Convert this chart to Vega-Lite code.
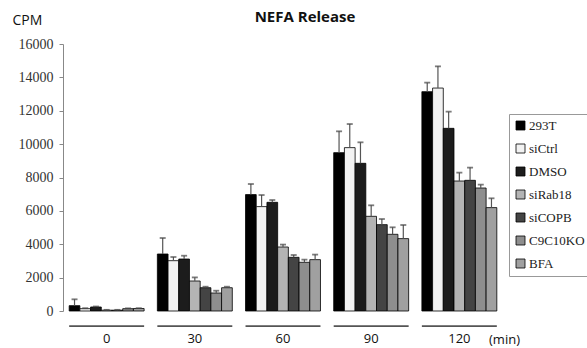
{
  "$schema": "https://vega.github.io/schema/vega-lite/v6.json",
  "autosize": "none",
  "width": 440,
  "height": 267,
  "padding": {"left": 63, "top": 44, "right": 84, "bottom": 37},
  "background": "white",
  "title": {"text": "NEFA Release", "font": "Open Sans", "fontSize": 15, "fontWeight": "bold", "anchor": "middle", "frame": "group", "dx": 22, "offset": -12, "color": "#111"},
  "config": {"view": {"stroke": null}},
  "data": {"values": [
    {"t": "0", "s": "293T", "v": 320, "e": 700},
    {"t": "0", "s": "siCtrl", "v": 140, "e": 170},
    {"t": "0", "s": "DMSO", "v": 240, "e": 270},
    {"t": "0", "s": "siRab18", "v": 50, "e": 70},
    {"t": "0", "s": "siCOPB", "v": 50, "e": 70},
    {"t": "0", "s": "C9C10KO", "v": 140, "e": 160},
    {"t": "0", "s": "BFA", "v": 150, "e": 170},
    {"t": "30", "s": "293T", "v": 3415, "e": 4374},
    {"t": "30", "s": "siCtrl", "v": 3015, "e": 3236},
    {"t": "30", "s": "DMSO", "v": 3115, "e": 3313},
    {"t": "30", "s": "siRab18", "v": 1797, "e": 2013},
    {"t": "30", "s": "siCOPB", "v": 1396, "e": 1456},
    {"t": "30", "s": "C9C10KO", "v": 1078, "e": 1216},
    {"t": "30", "s": "BFA", "v": 1396, "e": 1456},
    {"t": "60", "s": "293T", "v": 6975, "e": 7610},
    {"t": "60", "s": "siCtrl", "v": 6255, "e": 6950},
    {"t": "60", "s": "DMSO", "v": 6513, "e": 6650},
    {"t": "60", "s": "siRab18", "v": 3835, "e": 3980},
    {"t": "60", "s": "siCOPB", "v": 3217, "e": 3355},
    {"t": "60", "s": "C9C10KO", "v": 2918, "e": 3078},
    {"t": "60", "s": "BFA", "v": 3078, "e": 3380},
    {"t": "90", "s": "293T", "v": 9490, "e": 10767},
    {"t": "90", "s": "siCtrl", "v": 9790, "e": 11204},
    {"t": "90", "s": "DMSO", "v": 8850, "e": 10108},
    {"t": "90", "s": "siRab18", "v": 5674, "e": 6333},
    {"t": "90", "s": "siCOPB", "v": 5176, "e": 5512},
    {"t": "90", "s": "C9C10KO", "v": 4596, "e": 5015},
    {"t": "90", "s": "BFA", "v": 4338, "e": 5153},
    {"t": "120", "s": "293T", "v": 13144, "e": 13685},
    {"t": "120", "s": "siCtrl", "v": 13360, "e": 14660},
    {"t": "120", "s": "DMSO", "v": 10946, "e": 11947},
    {"t": "120", "s": "siRab18", "v": 7789, "e": 8292},
    {"t": "120", "s": "siCOPB", "v": 7831, "e": 8592},
    {"t": "120", "s": "C9C10KO", "v": 7370, "e": 7573},
    {"t": "120", "s": "BFA", "v": 6195, "e": 6753}
  ]},
  "encoding": {
    "x": {
      "field": "t", "type": "ordinal", "sort": ["0", "30", "60", "90", "120"],
      "scale": {"paddingInner": 0.15, "paddingOuter": 0.07},
      "axis": {
        "domain": false, "ticks": false, "labelAngle": 0, "labelPadding": 21,
        "labelFont": "Open Sans", "labelFontSize": 13, "labelColor": "#111",
        "title": "(min)", "titleFont": "Open Sans", "titleFontSize": 13, "titleFontWeight": "normal", "titleColor": "#111",
        "titleX": 441, "titleY": 28, "titleAlign": "center", "titleBaseline": "middle"
      }
    }
  },
  "layer": [
    {
      "mark": {"type": "bar", "stroke": "black", "strokeWidth": 0.8},
      "encoding": {
        "xOffset": {"field": "s", "sort": ["293T", "siCtrl", "DMSO", "siRab18", "siCOPB", "C9C10KO", "BFA"], "scale": {"paddingInner": 0, "paddingOuter": 0}},
        "y": {
          "field": "v", "type": "quantitative",
          "scale": {"domain": [0, 16000], "nice": false},
          "axis": {
            "title": "CPM", "values": [0, 2000, 4000, 6000, 8000, 10000, 12000, 14000, 16000],
            "format": "d", "labelOverlap": false,
            "grid": false, "domainColor": "#888", "tickColor": "#888", "tickSize": 4,
            "labelFont": "Liberation Serif", "labelFontSize": 14, "labelColor": "#333", "labelPadding": 6,
            "titleAngle": 0, "titleX": -51, "titleY": -24, "titleAlign": "left", "titleBaseline": "middle",
            "titleFont": "Open Sans", "titleFontSize": 14, "titleFontWeight": "normal", "titleColor": "#111"
          }
        },
        "fill": {
          "field": "s", "type": "nominal",
          "sort": ["293T", "siCtrl", "DMSO", "siRab18", "siCOPB", "C9C10KO", "BFA"],
          "scale": {"domain": ["293T", "siCtrl", "DMSO", "siRab18", "siCOPB", "C9C10KO", "BFA"],
                    "range": ["#000000", "#f2f2f2", "#1c1c1c", "#b4b4b4", "#444444", "#8e8e8e", "#a0a0a0"]},
          "legend": {
            "orient": "none", "legendX": 446, "legendY": 70, "title": null,
            "strokeColor": "#999", "fillColor": "white", "padding": 5,
            "symbolType": "square", "symbolSize": 81, "symbolStrokeColor": "black", "symbolStrokeWidth": 0.8, "symbolOpacity": 1,
            "labelFont": "Liberation Serif", "labelFontSize": 13, "labelColor": "#222", "labelOffset": 2,
            "rowPadding": 9
          }
        }
      }
    },
    {
      "mark": {"type": "rule", "color": "#555", "strokeWidth": 1.2},
      "encoding": {
        "xOffset": {"field": "s", "sort": ["293T", "siCtrl", "DMSO", "siRab18", "siCOPB", "C9C10KO", "BFA"]},
        "y": {"field": "v", "type": "quantitative",
          "axis": {
            "title": "CPM", "values": [0, 2000, 4000, 6000, 8000, 10000, 12000, 14000, 16000],
            "format": "d", "labelOverlap": false,
            "grid": false, "domainColor": "#888", "tickColor": "#888", "tickSize": 4,
            "labelFont": "Liberation Serif", "labelFontSize": 14, "labelColor": "#333", "labelPadding": 6,
            "titleAngle": 0, "titleX": -51, "titleY": -24, "titleAlign": "left", "titleBaseline": "middle",
            "titleFont": "Open Sans", "titleFontSize": 14, "titleFontWeight": "normal", "titleColor": "#111"
          }},
        "y2": {"field": "e"}
      }
    },
    {
      "mark": {"type": "tick", "color": "#444", "thickness": 1.8, "size": 6},
      "encoding": {
        "xOffset": {"field": "s", "sort": ["293T", "siCtrl", "DMSO", "siRab18", "siCOPB", "C9C10KO", "BFA"]},
        "y": {"field": "e", "type": "quantitative",
          "axis": {
            "title": "CPM", "values": [0, 2000, 4000, 6000, 8000, 10000, 12000, 14000, 16000],
            "format": "d", "labelOverlap": false,
            "grid": false, "domainColor": "#888", "tickColor": "#888", "tickSize": 4,
            "labelFont": "Liberation Serif", "labelFontSize": 14, "labelColor": "#333", "labelPadding": 6,
            "titleAngle": 0, "titleX": -51, "titleY": -24, "titleAlign": "left", "titleBaseline": "middle",
            "titleFont": "Open Sans", "titleFontSize": 14, "titleFontWeight": "normal", "titleColor": "#111"
          }}
      }
    },
    {
      "data": {"values": [{"t": "0"}, {"t": "30"}, {"t": "60"}, {"t": "90"}, {"t": "120"}]},
      "mark": {"type": "rect", "color": "#555"},
      "encoding": {
        "y": {"datum": -860, "type": "quantitative",
          "axis": {
            "title": "CPM", "values": [0, 2000, 4000, 6000, 8000, 10000, 12000, 14000, 16000],
            "format": "d", "labelOverlap": false,
            "grid": false, "domainColor": "#888", "tickColor": "#888", "tickSize": 4,
            "labelFont": "Liberation Serif", "labelFontSize": 14, "labelColor": "#333", "labelPadding": 6,
            "titleAngle": 0, "titleX": -51, "titleY": -24, "titleAlign": "left", "titleBaseline": "middle",
            "titleFont": "Open Sans", "titleFontSize": 14, "titleFontWeight": "normal", "titleColor": "#111"
          }},
        "y2": {"datum": -960}
      }
    }
  ]
}
